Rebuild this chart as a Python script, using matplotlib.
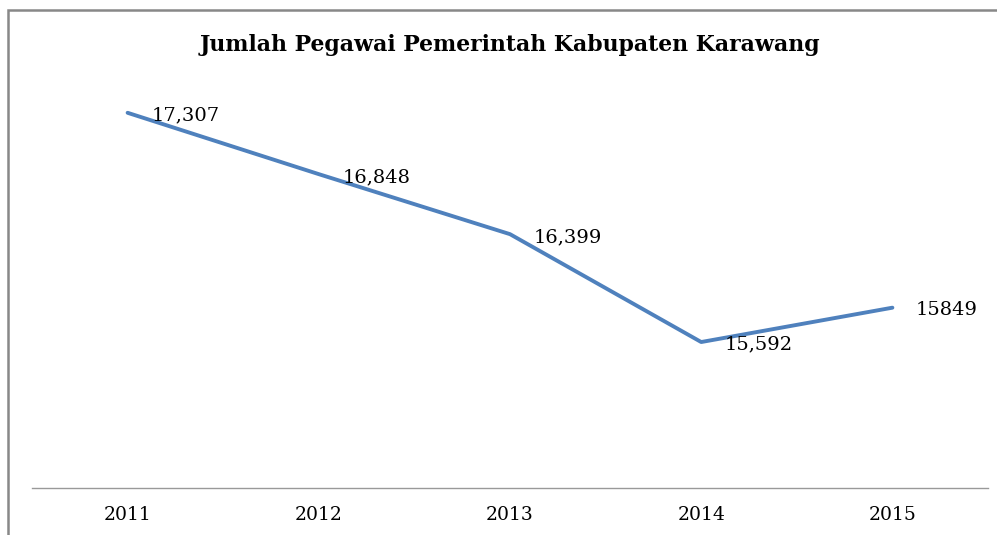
import matplotlib.pyplot as plt
from matplotlib.patches import Rectangle

# data
years = ['2011', '2012', '2013', '2014', '2015']
pegawai = [17307, 16848, 16399, 15592, 15849]
labels = ['17,307', '16,848', '16,399', '15,592', '15849']

plt.rcParams['font.family'] = ['DejaVu Serif']

fig = plt.figure(figsize=(9.97, 5.35), dpi=100)
# axes placed in pixel terms: x 32..988, y 87..488 (from top)
ax = fig.add_axes([32 / 997, 1 - 488 / 535, 956 / 997, 401 / 535])

xs = list(range(len(years)))
ax.plot(xs, pegawai, color='#4F81BD', lw=2.8, solid_capstyle='round')

for x, y, t in zip(xs, pegawai, labels):
    ax.annotate(t, (x, y), xytext=(17, -2), textcoords='offset points',
                ha='left', va='center', fontsize=14, color='black')

ax.set_xlim(-0.5, 4.5)
ax.set_ylim(14500, 17500)
ax.set_xticks(xs)
ax.set_xticklabels(years, fontsize=13.5)
ax.tick_params(axis='x', length=0, pad=13)
ax.set_yticks([])
for s in ['top', 'right', 'left']:
    ax.spines[s].set_visible(False)
ax.spines['bottom'].set_color('#999999')
ax.spines['bottom'].set_linewidth(1)

fig.text(510 / 997, 1 - 45 / 535, 'Jumlah Pegawai Pemerintah Kabupaten Karawang',
         ha='center', va='center', fontsize=15.8, fontweight='bold')

# chart frame (left and top edges visible)
fig.add_artist(Rectangle((8 / 997, -0.1), 1.2, 1 - 10 / 535 + 0.1,
                         transform=fig.transFigure, fill=False,
                         edgecolor='#888888', lw=1.8))

fig.savefig('out.png', dpi=100)
